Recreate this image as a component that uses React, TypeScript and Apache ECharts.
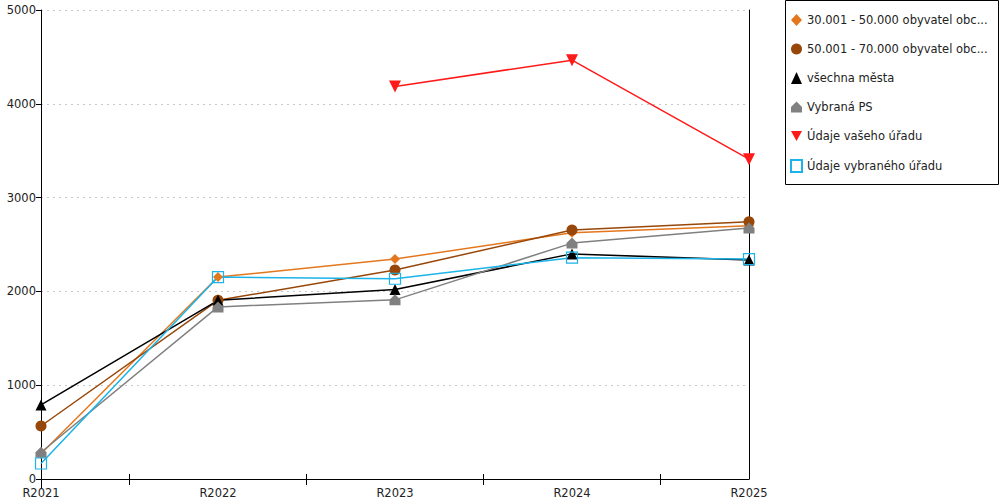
import React, { useEffect, useRef } from "react";
import * as echarts from "echarts";

const categories = ["R2021", "R2022", "R2023", "R2024", "R2025"];
const midTicks = ["m1", "m2", "m3", "m4"];
const yTicks = { min: 0, max: 5000, interval: 1000 };

const names = [
  "30.001 - 50.000 obyvatel obc...",
  "50.001 - 70.000 obyvatel obc...",
  "všechna města",
  "Vybraná PS",
  "Údaje vašeho úřadu",
  "Údaje vybraného úřadu",
];

const s30to50 = [270, 2153, 2345, 2625, 2700];
const s50to70 = [565, 1905, 2228, 2655, 2742];
const allCities = [790, 1905, 2020, 2400, 2335];
const selectedPS = [285, 1835, 1910, 2515, 2675];
const yourOffice = [null, null, 4185, 4465, 3410];
const selectedOffice = [165, 2153, 2135, 2360, 2345];

const colors = ["#e3771e", "#974709", "#000000", "#808080", "#ff1a1a", "#1ab3ea"];

const HOUSE = "path://M5,0 L10,5 L10,10 L0,10 L0,5 Z";
const DOWN = "path://M0,0 L10,0 L5,9 Z";
const FONT = "DejaVu Sans";

export default function App() {
  const ref = useRef<HTMLDivElement>(null);
  useEffect(() => {
    if (!ref.current) return;
    const chart = echarts.init(ref.current, undefined, { renderer: "svg" });
    const mk = (i: number, data: (number | null)[], symbol: string, size: number, extra: any = {}) => ({
      name: names[i],
      type: "line",
      data,
      symbol,
      symbolSize: size,
      lineStyle: { color: colors[i], width: 1.5 },
      itemStyle: { color: colors[i] },
      emphasis: { disabled: true },
      ...extra,
    });
    chart.setOption({
      animation: false,
      textStyle: { fontFamily: FONT },
      grid: { left: 41, right: 251, top: 10, bottom: 21, containLabel: false },
      graphic: [
        {
          type: "rect",
          shape: { x: 785.5, y: 0.5, width: 213, height: 184 },
          style: { fill: "#fff", stroke: "#000", lineWidth: 1 },
          z: 0,
        },
      ],
      legend: {
        orient: "vertical",
        left: 790,
        top: 14,
        padding: 0,
        itemGap: 17,
        itemWidth: 11,
        itemHeight: 12,
        textStyle: { fontFamily: FONT, fontSize: 11.5, color: "#222" },
        data: [
          { name: names[0], icon: "diamond" },
          { name: names[1], icon: "circle" },
          { name: names[2], icon: "triangle" },
          { name: names[3], icon: HOUSE },
          { name: names[4], icon: DOWN },
          { name: names[5], icon: "rect" },
        ],
        z: 5,
      },
      xAxis: [
        {
          type: "category",
          data: categories,
          boundaryGap: false,
          axisLine: { lineStyle: { color: "#000", width: 1 } },
          axisTick: { show: true, interval: (i: number) => i === 0, length: 9, lineStyle: { color: "#000" } },
          axisLabel: { color: "#222", fontFamily: FONT, fontSize: 11.5, margin: 8, interval: 0 },
          splitLine: { show: false },
        },
        {
          type: "category",
          data: midTicks,
          boundaryGap: true,
          position: "bottom",
          axisLine: { show: false },
          axisTick: { show: true, alignWithLabel: true, length: 6, lineStyle: { color: "#000" } },
          axisLabel: { show: false },
          splitLine: { show: false },
        },
        {
          type: "category",
          data: midTicks,
          boundaryGap: true,
          position: "bottom",
          axisLine: { show: false },
          axisTick: { show: true, inside: true, alignWithLabel: true, length: 5, lineStyle: { color: "#000" } },
          axisLabel: { show: false },
          splitLine: { show: false },
        },
      ],
      yAxis: [
        {
          type: "value",
          min: yTicks.min,
          max: yTicks.max,
          interval: yTicks.interval,
          axisLine: { show: true, lineStyle: { color: "#000", width: 1 } },
          axisTick: { show: true, length: 5, lineStyle: { color: "#000" } },
          axisLabel: {
            color: "#222",
            fontFamily: FONT,
            fontSize: 11.5,
            margin: 5,
            formatter: (v: number) => String(v),
          },
          splitLine: { show: true, lineStyle: { color: "#c8c8c8", type: [2, 4], width: 1 } },
        },
        {
          type: "value",
          position: "right",
          min: yTicks.min,
          max: yTicks.max,
          interval: yTicks.interval,
          axisLine: { show: true, lineStyle: { color: "#000", width: 1 } },
          axisTick: { show: false },
          axisLabel: { show: false },
          splitLine: { show: false },
        },
      ],
      series: [
        mk(0, s30to50, "diamond", 10),
        mk(1, s50to70, "circle", 11),
        mk(2, allCities, "triangle", 11),
        mk(3, selectedPS, HOUSE, 11),
        mk(4, yourOffice, DOWN, 12),
        mk(5, selectedOffice, "rect", 11, {
          itemStyle: { color: "rgba(255,255,255,0)", borderColor: colors[5], borderWidth: 1.2 },
        }),
      ],
    });
    return () => chart.dispose();
  }, []);
  return (
    <div
      ref={ref}
      style={{ position: "fixed", left: 0, top: 0, width: 1000, height: 500, background: "#fff" }}
    />
  );
}
